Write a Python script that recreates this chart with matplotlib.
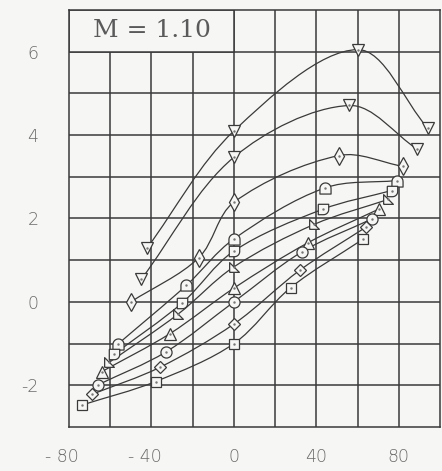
import numpy as np
import matplotlib
matplotlib.use("Agg")
import matplotlib.pyplot as plt
from matplotlib.path import Path
from matplotlib.patches import PathPatch, Rectangle
from matplotlib.transforms import ScaledTranslation

# ---- data (x = angle, y = coefficient) ----
x_ticks = [-80, -40, 0, 40, 80]
x_tick_labels = ["- 80", "- 40", "0", "40", "80"]
y_ticks = [-2, 0, 2, 4, 6]
y_tick_labels = ["-2", "0", "2", "4", "6"]
mach_label = "M = 1.10"

tri_flag_x = [-42, 0, 60, 94]
tri_flag_y = [1.30, 4.10, 6.05, 4.17]
tri_down_x = [-45, 0, 56, 89]
tri_down_y = [0.54, 3.47, 4.71, 3.66]
thin_diamond_x = [-50, -17, 0, 51, 82]
thin_diamond_y = [0.00, 1.06, 2.39, 3.51, 3.25]
dome_x = [-56, -23, 0, 44, 79]
dome_y = [-1.00, 0.40, 1.51, 2.73, 2.91]
half_x = [-58, -25, 0, 43, 76.5]
half_y = [-1.25, -0.02, 1.22, 2.22, 2.67]
flag_x = [-60.5, -27, 0, 39, 75]
flag_y = [-1.45, -0.29, 0.84, 1.86, 2.46]
tri_up_x = [-64, -31, 0, 36, 70.5]
tri_up_y = [-1.67, -0.76, 0.33, 1.42, 2.23]
circle_x = [-66, -33, 0, 33, 67]
circle_y = [-1.99, -1.20, 0.00, 1.20, 1.99]
diamond_x = [-69, -36, 0, 32, 64]
diamond_y = [-2.22, -1.57, -0.53, 0.76, 1.79]
square_x = [-73.5, -38, 0, 27.5, 62.5]
square_y = [-2.47, -1.91, -1.00, 0.34, 1.50]

BG = "#f6f6f4"
INK = "#3a3a3a"
LABEL = "#6a6a6a"
X_PER_CELL = 20.0  # x units per grid cell (y uses 1 per cell)

# custom marker shapes
_t = np.linspace(0, np.pi, 13)
dome_marker = Path(list(zip(np.cos(_t), np.sin(_t))) + [(-1, -1), (1, -1), (1, 0)])
_q = np.linspace(0, -np.pi / 2, 8)
half_marker = Path([(-1, 1), (1, 1), (1, 0)] + list(zip(np.cos(_q), np.sin(_q)))[1:] + [(-1, -1), (-1, 1)])
flag_marker = Path([(-1, -1), (-1, 1), (1, -1), (-1, -1)])


def smooth_path(xs, ys):
    """Chord-length Catmull-Rom through the points, as a cubic Bezier path."""
    p = np.column_stack([np.asarray(xs, float) / X_PER_CELL, ys]).astype(float)
    n = len(p)
    d = np.hypot(*np.diff(p, axis=0).T)
    tang = np.zeros_like(p)
    tang[0] = (p[1] - p[0]) / d[0]
    tang[-1] = (p[-1] - p[-2]) / d[-1]
    for i in range(1, n - 1):
        tang[i] = (p[i + 1] - p[i - 1]) / (d[i - 1] + d[i])
    verts = [p[0]]
    codes = [Path.MOVETO]
    for i in range(n - 1):
        verts += [p[i] + tang[i] * d[i] / 3, p[i + 1] - tang[i + 1] * d[i] / 3, p[i + 1]]
        codes += [Path.CURVE4] * 3
    verts = np.array(verts)
    verts[:, 0] *= X_PER_CELL
    return Path(verts, codes)


series = [
    (tri_flag_x, tri_flag_y, "v", 9),
    (tri_down_x, tri_down_y, "v", 8),
    (thin_diamond_x, thin_diamond_y, "d", 9),
    (dome_x, dome_y, dome_marker, 8),
    (half_x, half_y, half_marker, 7.5),
    (flag_x, flag_y, flag_marker, 7),
    (tri_up_x, tri_up_y, "^", 8),
    (circle_x, circle_y, "o", 8),
    (diamond_x, diamond_y, "D", 6.5),
    (square_x, square_y, "s", 7),
]

fig = plt.figure(figsize=(4.42, 4.71), dpi=100, facecolor=BG)
ax = fig.add_axes([69 / 442, 1 - 427 / 471, 371 / 442, 417 / 471])
ax.set_facecolor(BG)
ax.set_xlim(-80, 100)
ax.set_ylim(-3, 7)

# grid: every 20 in x, every 1 in y
for gx in np.arange(-60, 100, 20):
    ax.axvline(gx, color=INK, linewidth=1.1, zorder=0.5)
for gy in np.arange(-2, 7, 1):
    ax.axhline(gy, color=INK, linewidth=1.1, zorder=0.5)

ax.tick_params(which="both", length=0)
ax.set_xticks(x_ticks)
ax.set_xticklabels(x_tick_labels)
ax.set_yticks(y_ticks)
ax.set_yticklabels(y_tick_labels)
ax.tick_params(axis="x", pad=15, labelsize=12.5, labelcolor=LABEL)
ax.tick_params(axis="y", pad=22, labelsize=12.5, labelcolor=LABEL)
for lab in ax.get_xticklabels():
    lab.set_fontweight("light")
    if lab.get_text().startswith("-"):
        # keep the digits centred on the tick, minus hanging to the left
        lab.set_transform(lab.get_transform() + ScaledTranslation(-0.07, 0, fig.dpi_scale_trans))
for lab in ax.get_yticklabels():
    lab.set_fontweight("light")
for sp in ax.spines.values():
    sp.set_color(INK)
    sp.set_linewidth(1.1)

# title box in the upper left cells
ax.add_patch(Rectangle((-80, 6), 80, 1, facecolor=BG, edgecolor=INK, linewidth=1.1, zorder=1))
ax.text(-40, 6.5, mach_label, ha="center", va="center", fontsize=18,
        family="DejaVu Serif", fontweight="light", color="#5a5a5a", zorder=4)

for xs, ys, mk, ms in series:
    ax.add_patch(PathPatch(smooth_path(xs, ys), facecolor="none", edgecolor=INK,
                           linewidth=0.9, zorder=2))
    ax.plot(xs, ys, linestyle="none", marker=mk, markersize=ms, markerfacecolor=BG,
            markeredgecolor=INK, markeredgewidth=0.9, zorder=3)
    ax.plot(xs, ys, linestyle="none", marker=".", markersize=1.5, color="#777777", zorder=4)

fig.savefig("out.png", dpi=100, facecolor=BG)
